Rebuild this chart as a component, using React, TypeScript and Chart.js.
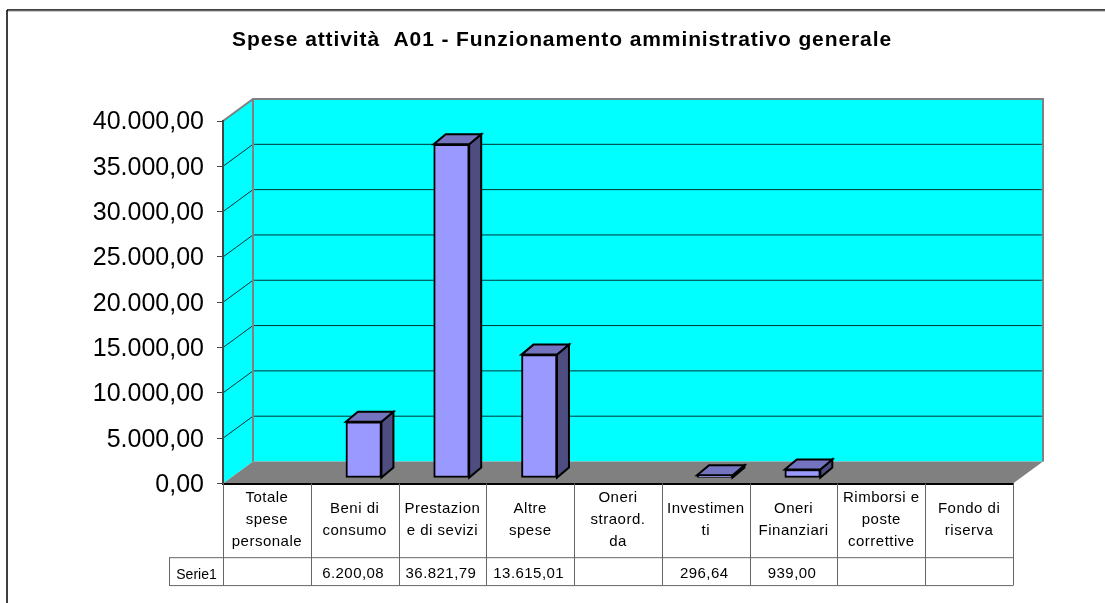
import React, { useEffect, useRef } from "react";
import { Chart, registerables } from "chart.js";

Chart.register(...registerables);

const TITLE = "Spese attività  A01 - Funzionamento amministrativo generale";
const SERIES_NAME = "Serie1";
const categories: string[][] = [
  ["Totale", "spese", "personale"],
  ["Beni di", "consumo"],
  ["Prestazion", "e di sevizi"],
  ["Altre", "spese"],
  ["Oneri", "straord.", "da"],
  ["Investimen", "ti"],
  ["Oneri", "Finanziari"],
  ["Rimborsi e", "poste", "correttive"],
  ["Fondo di", "riserva"],
];
const values: (number | null)[] = [null, 6200.08, 36821.79, 13615.01, null, 296.64, 939.0, null, null];
const tableText: string[] = ["", "6.200,08", "36.821,79", "13.615,01", "", "296,64", "939,00", "", ""];

const FONT = '"Liberation Sans", Arial, sans-serif';
const WALL_DX = 30;
const WALL_DY = -22;
const BAR_DX = 9;
const BAR_DY = -5.5;
const DEPTH_DX = 12;
const DEPTH_DY = -10;
const CYAN = "#00FFFF";
const GREY = "#808080";
const TABLE_LINE = "#666666";

const fmt = (v: number) =>
  v.toLocaleString("it-IT", { minimumFractionDigits: 2, maximumFractionDigits: 2, useGrouping: "always" } as any);

function poly(ctx: CanvasRenderingContext2D, pts: number[][], fill?: string, stroke?: string, lw = 1) {
  ctx.beginPath();
  pts.forEach(([x, y], i) => (i ? ctx.lineTo(x, y) : ctx.moveTo(x, y)));
  ctx.closePath();
  if (fill) {
    ctx.fillStyle = fill;
    ctx.fill();
  }
  if (stroke) {
    ctx.strokeStyle = stroke;
    ctx.lineWidth = lw;
    ctx.stroke();
  }
}

function line(ctx: CanvasRenderingContext2D, x1: number, y1: number, x2: number, y2: number, color: string, lw = 1) {
  ctx.beginPath();
  ctx.moveTo(x1, y1);
  ctx.lineTo(x2, y2);
  ctx.strokeStyle = color;
  ctx.lineWidth = lw;
  ctx.stroke();
}

function spaced(target: any, method: string, spacing: string, dy = 0) {
  const orig = target[method];
  target[method] = function (...args: any[]) {
    const ctx = this.ctx as any;
    const prev = ctx.letterSpacing;
    ctx.save();
    ctx.letterSpacing = spacing;
    ctx.translate(0, dy);
    orig.apply(this, args);
    ctx.restore();
    ctx.letterSpacing = prev;
  };
}

const scene3d = {
  id: "scene3d",
  afterLayout(chart: any) {
    if (chart.$spaced) return;
    chart.$spaced = true;
    spaced(chart.titleBlock, "draw", "0.9px");
    spaced(chart.scales.x, "drawLabels", "0.5px");
    spaced(chart.scales.y, "drawLabels", "0px", 1.5);
  },
  beforeDraw(chart: any) {
    const { ctx, chartArea: a, scales, width, height } = chart;
    const y = scales.y;
    ctx.save();
    ctx.fillStyle = "#FFFFFF";
    ctx.fillRect(0, 0, width, height);
    // outer frame
    line(ctx, 7, 10, width, 10, "#000000", 1.5);
    line(ctx, 7, 10, 7, height, "#000000", 1.5);
    line(ctx, 8, 11, width, 11, "#909090", 1);
    // walls
    const top = a.top, bot = a.bottom, l = a.left, r = a.right;
    poly(ctx, [[l, top], [l + WALL_DX, top + WALL_DY], [l + WALL_DX, bot + WALL_DY], [l, bot]], CYAN);
    poly(ctx, [[l + WALL_DX, top + WALL_DY], [r + WALL_DX, top + WALL_DY], [r + WALL_DX, bot + WALL_DY], [l + WALL_DX, bot + WALL_DY]], CYAN);
    poly(ctx, [[l, bot], [l + WALL_DX, bot + WALL_DY], [r + WALL_DX, bot + WALL_DY], [r, bot]], GREY);
    // gridlines along the walls
    y.ticks.forEach((t: any) => {
      if (t.value === 0 || t.value === y.max) return;
      const py = y.getPixelForValue(t.value);
      line(ctx, l, py, l + WALL_DX, py + WALL_DY, "#003333", 1);
      line(ctx, l + WALL_DX, py + WALL_DY, r + WALL_DX, py + WALL_DY, "#003333", 1);
    });
    // wall edges
    ctx.lineJoin = "miter";
    ctx.beginPath();
    ctx.moveTo(l, top);
    ctx.lineTo(l + WALL_DX, top + WALL_DY);
    ctx.lineTo(r + WALL_DX, top + WALL_DY);
    ctx.lineTo(r + WALL_DX, bot + WALL_DY);
    ctx.strokeStyle = GREY;
    ctx.lineWidth = 2;
    ctx.stroke();
    line(ctx, l + WALL_DX, top + WALL_DY, l + WALL_DX, bot + WALL_DY, GREY, 2);
    ctx.restore();
  },
  beforeDatasetsDraw(chart: any) {
    const { ctx } = chart;
    const meta = chart.getDatasetMeta(0);
    ctx.save();
    ctx.lineJoin = "miter";
    meta.data.forEach((bar: any, i: number) => {
      if (values[i] == null) return;
      const { x, y, base, width } = bar.getProps(["x", "y", "base", "width"], true);
      const x0 = x - width / 2 + BAR_DX;
      const x1 = x + width / 2 + BAR_DX;
      const y0 = y + BAR_DY;
      const y1 = base + BAR_DY;
      poly(ctx, [[x1, y0], [x1 + DEPTH_DX, y0 + DEPTH_DY], [x1 + DEPTH_DX, y1 + DEPTH_DY], [x1, y1]], "#4D4D80", "#000000", 2);
      poly(ctx, [[x0, y0], [x0 + DEPTH_DX, y0 + DEPTH_DY], [x1 + DEPTH_DX, y0 + DEPTH_DY], [x1, y0]], "#7373BF", "#000000", 2);
    });
    ctx.restore();
  },
  beforeDatasetDraw(chart: any) {
    chart.ctx.save();
    chart.ctx.translate(BAR_DX, BAR_DY);
  },
  afterDatasetDraw(chart: any) {
    chart.ctx.restore();
  },
  afterDraw(chart: any) {
    const { ctx, chartArea: a, scales } = chart;
    const x = scales.x;
    const rowTop = 557.7;
    const rowBot = 585.6;
    const n = categories.length;
    const step = (a.right - a.left) / n;
    ctx.save();
    for (let i = 0; i <= n; i++) {
      const px = Math.round(a.left + i * step) + 0.5;
      line(ctx, px, a.bottom, px, rowBot, TABLE_LINE, 1);
    }
    line(ctx, 169, rowTop, a.right, rowTop, TABLE_LINE, 1);
    line(ctx, 169, rowBot, a.right, rowBot, TABLE_LINE, 1);
    line(ctx, 169.5, rowTop, 169.5, rowBot, TABLE_LINE, 1);
    ctx.fillStyle = "#000000";
    ctx.textBaseline = "middle";
    ctx.textAlign = "center";
    ctx.font = `14px ${FONT}`;
    ctx.fillText(SERIES_NAME, 196.5, 575);
    ctx.font = `15px ${FONT}`;
    (ctx as any).letterSpacing = "0.45px";
    tableText.forEach((t, i) => {
      if (t) ctx.fillText(t, x.getPixelForValue(i) - 1.5, 574);
    });
    ctx.restore();
  },
};

export default function App() {
  const ref = useRef<HTMLCanvasElement>(null);
  useEffect(() => {
    document.body.style.margin = "0";
    const chart = new Chart(ref.current!, {
      type: "bar",
      data: {
        labels: categories as any,
        datasets: [
          {
            label: SERIES_NAME,
            data: values,
            backgroundColor: "#9999FF",
            borderColor: "#000000",
            borderWidth: 2,
            borderSkipped: false,
            barThickness: 35.5,
            clip: false as any,
          },
        ],
      },
      options: {
        animation: false,
        responsive: false,
        devicePixelRatio: 1,
        layout: { padding: { left: 19, right: 0, top: 0, bottom: 17.5 } },
        plugins: {
          legend: { display: false },
          tooltip: { enabled: false },
          title: {
            display: true,
            text: TITLE,
            color: "#000000",
            align: "center",
            font: { family: FONT, size: 21, weight: "bold", lineHeight: 1.2 },
            padding: { top: 28, bottom: 67.8 },
          },
        },
        scales: {
          x: {
            type: "category",
            grid: { display: false },
            border: { display: true, color: "#000000", width: 2 },
            ticks: {
              autoSkip: false,
              maxRotation: 0,
              minRotation: 0,
              crossAlign: "center",
              padding: 6,
              color: "#000000",
              font: { family: FONT, size: 15, lineHeight: 22 / 15 },
            },
            afterFit: (s: any) => {
              s.height = 102;
            },
          },
          y: {
            type: "linear",
            min: 0,
            max: 40000,
            grid: { drawOnChartArea: false, drawTicks: true, tickLength: 6, color: "#444444", lineWidth: 1 },
            border: { display: true, color: "#444444", width: 2 },
            ticks: {
              stepSize: 5000,
              padding: 13,
              color: "#000000",
              font: { family: FONT, size: 25 },
              callback: (v: any) => fmt(Number(v)),
            },
            afterFit: (s: any) => {
              s.width = 204;
            },
          },
          yRight: {
            type: "linear",
            position: "right",
            display: true,
            min: 0,
            max: 40000,
            grid: { display: false },
            border: { display: false },
            ticks: { display: false },
            afterFit: (s: any) => {
              s.width = 92;
            },
          },
        },
      } as any,
      plugins: [scene3d],
    });
    return () => chart.destroy();
  }, []);
  return (
    <div style={{ position: "absolute", left: 0, top: 0, width: 1105, height: 603 }}>
      <canvas ref={ref} width={1105} height={603} style={{ display: "block" }} />
    </div>
  );
}
